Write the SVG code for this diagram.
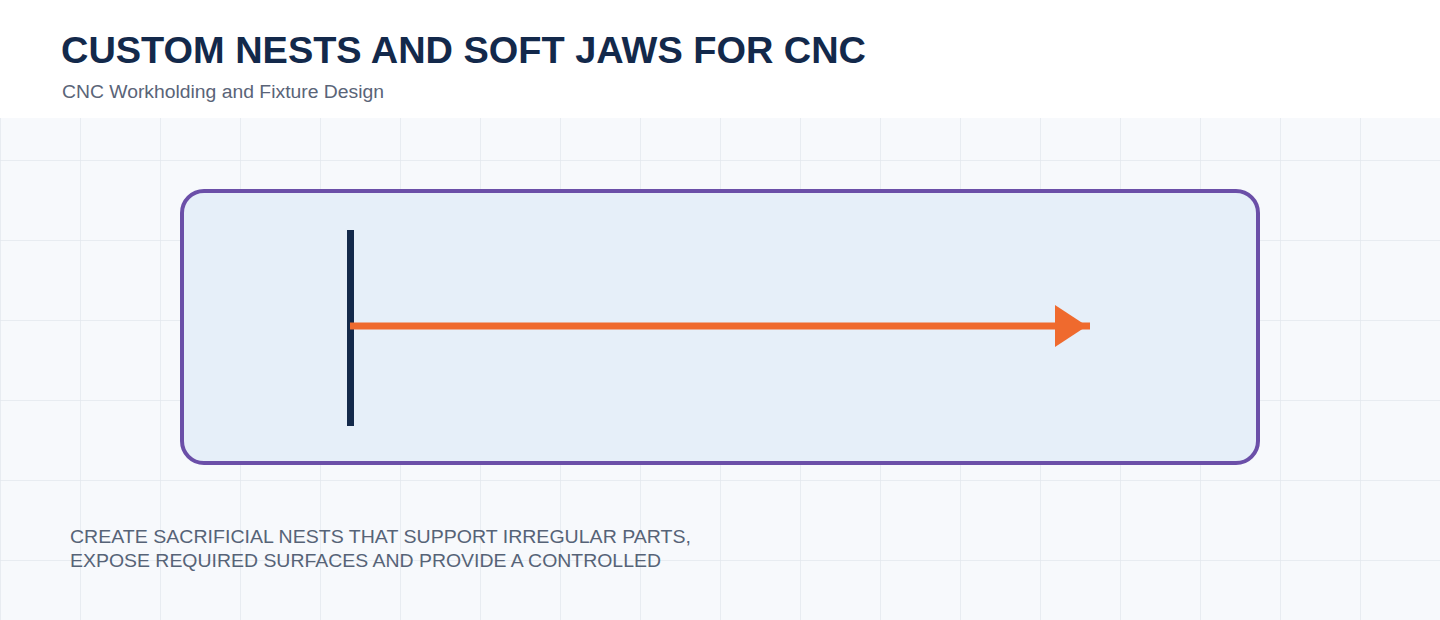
<svg xmlns="http://www.w3.org/2000/svg" width="1440" height="620" viewBox="0 0 1440 620">
<defs>
<pattern id="grid" x="0" y="0" width="80" height="80" patternUnits="userSpaceOnUse">
<path d="M0 0V80M0 0H80" fill="none" stroke="#e3e7ee" stroke-width="1.5"/>
</pattern>
<marker id="arrow" markerUnits="userSpaceOnUse" markerWidth="40" markerHeight="44" refX="35" refY="21" orient="auto" viewBox="0 0 40 44">
<path d="M0 0L32 21L0 42Z" fill="#ef6a2e"/>
</marker>
</defs>
<style>
.title{font-family:"Liberation Sans",Arial,sans-serif;font-weight:bold;font-size:37px;fill:#13294b}
.sub{font-family:"Liberation Sans",Arial,sans-serif;font-size:18px;fill:#5a6478}
.desc{font-family:"Liberation Sans",Arial,sans-serif;font-size:18.5px;fill:#566377}
</style>
<rect width="1440" height="620" fill="#f7f9fc"/>
<rect width="1440" height="620" fill="url(#grid)"/>
<rect width="1440" height="118" fill="#ffffff"/>
<text class="title" x="61" y="63" textLength="805" lengthAdjust="spacingAndGlyphs">CUSTOM NESTS AND SOFT JAWS FOR CNC</text>
<text class="sub" x="62" y="97.5" textLength="322" lengthAdjust="spacingAndGlyphs">CNC Workholding and Fixture Design</text>
<g id="frame">
<rect x="182" y="191" width="1076" height="272" rx="22" fill="#e6eff9" stroke="#6b4fa8" stroke-width="4"/>
</g>
<g id="wall">
<rect x="347" y="230" width="7" height="196" fill="#13294b"/>
</g>
<g id="connectors">
<line x1="350" y1="326" x2="1090" y2="326" stroke="#ef6a2e" stroke-width="7" marker-end="url(#arrow)"/>
</g>
<g id="caption">
<text class="desc" x="70" y="543" textLength="621" lengthAdjust="spacingAndGlyphs">CREATE SACRIFICIAL NESTS THAT SUPPORT IRREGULAR PARTS,</text>
<text class="desc" x="70" y="567" textLength="591" lengthAdjust="spacingAndGlyphs">EXPOSE REQUIRED SURFACES AND PROVIDE A CONTROLLED</text>
</g>
</svg>
